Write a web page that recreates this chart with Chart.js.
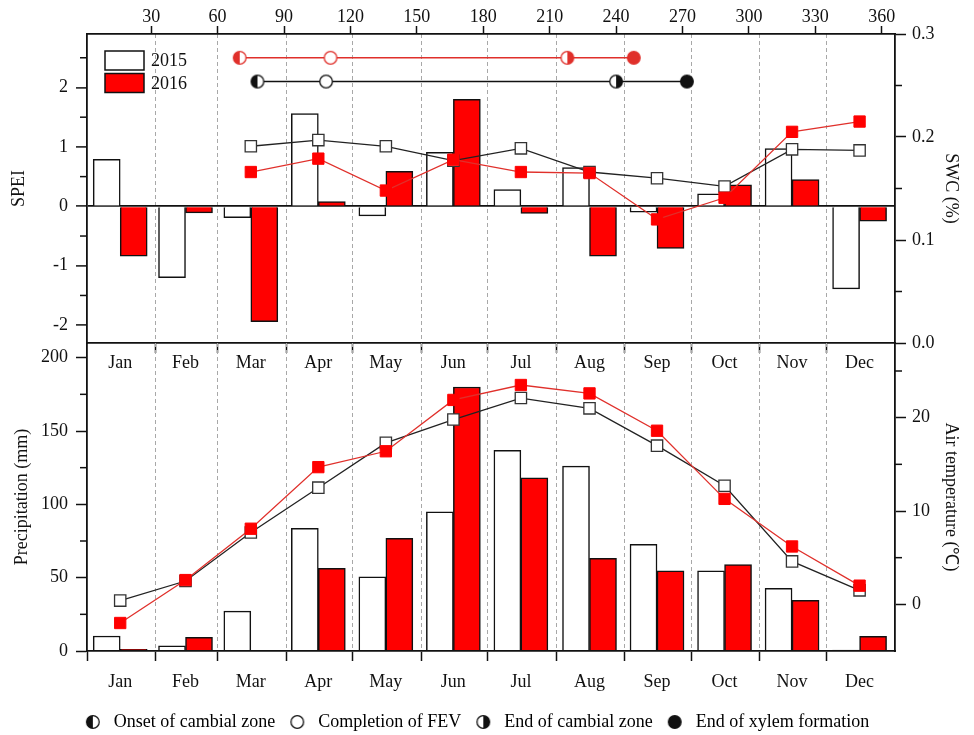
<!DOCTYPE html>
<html>
<head>
<meta charset="utf-8">
<title>SPEI, soil water, precipitation and air temperature</title>
<script src="https://cdn.jsdelivr.net/npm/chart.js@4.4.1/dist/chart.umd.min.js"></script>
<style>
  html, body { margin: 0; padding: 0; background: #fff; overflow: hidden; }
  #stage { position: relative; width: 974px; height: 735px; }
  #stage canvas { position: absolute; left: 0; top: 0; }
</style>
</head>
<body>
<div id="stage">
  <canvas id="speiChart" width="974" height="735"></canvas>
  <canvas id="climChart" width="974" height="760"></canvas>
</div>
<script>
// ---- data -------------------------------------------------------------
const months = ['Jan', 'Feb', 'Mar', 'Apr', 'May', 'Jun', 'Jul', 'Aug', 'Sep', 'Oct', 'Nov', 'Dec'];
const monthLengths = [31, 28, 31, 30, 31, 30, 31, 31, 30, 31, 30, 31];
const dayTicks = [30, 60, 90, 120, 150, 180, 210, 240, 270, 300, 330, 360];

const spei2015 = [0.79, -1.20, -0.19, 1.56, -0.16, 0.91, 0.28, 0.65, -0.10, 0.21, 0.97, -1.39];
const spei2016 = [-0.84, -0.11, -1.94, 0.08, 0.59, 1.80, -0.12, -0.84, -0.71, 0.36, 0.45, -0.25];

const swc2015 = [null, null, 0.191, 0.197, 0.191, 0.177, 0.189, 0.166, 0.160, 0.152, 0.188, 0.187];
const swc2016 = [null, null, 0.166, 0.179, 0.148, 0.178, 0.166, 0.165, 0.120, 0.141, 0.205, 0.215];

const precip2015 = [10.2, 3.6, 27.2, 83.6, 50.6, 94.9, 136.9, 126.0, 72.7, 54.7, 42.7, 0.7];
const precip2016 = [1.2, 9.3, 0.5, 56.3, 76.8, 180.0, 118.1, 63.1, 54.7, 59.0, 34.5, 10.0];

const temp2015 = [0.4, 2.5, 7.7, 12.5, 17.3, 19.8, 22.1, 21.0, 17.0, 12.7, 4.6, 1.5];
const temp2016 = [-2.0, 2.6, 8.1, 14.7, 16.4, 21.9, 23.5, 22.6, 18.6, 11.3, 6.2, 2.0];

// xylem phenology, day of year: onset of cambial zone, completion of FEV,
// end of cambial zone, end of xylem formation
const phenoLabels = ['Onset of cambial zone', 'Completion of FEV', 'End of cambial zone', 'End of xylem formation'];
const pheno2015 = [78, 109, 240, 272];
const pheno2016 = [70, 111, 218, 248];

const speiTicks = [-2, -1, 0, 1, 2];
const swcTicks = [0, 0.1, 0.2, 0.3];
const precipTicks = [0, 50, 100, 150, 200];
const tempTicks = [0, 10, 20];

// ---- styling ----------------------------------------------------------
const FONT = "'Liberation Serif', 'Times New Roman', Times, serif";
Chart.defaults.font.family = FONT;
Chart.defaults.font.size = 18;
Chart.defaults.color = '#111';
Chart.defaults.animation = false;

const INK = '#111';
const GRID = '#a8a8a8';
const RED = '#ff0000';
const RED_LINE = '#e0302b';
const AXIS_W = 1.8;
const DAY_MIN = 1, DAY_MAX = 366;

// calendar positions on the day-of-year axis
const monthStart = [];
monthLengths.reduce((d, n) => { monthStart.push(d); return d + n; }, 1);
const monthMid = monthStart.map((s, i) => s + (monthLengths[i] - 1) / 2);
const byMonth = vals => vals.map((v, i) => ({ x: monthMid[i], y: v }));

// phenology rows sit near the top of the SPEI range
const PHENO_ROW = { 2015: 2.1, 2016: 2.5 };

const setTicks = values => scale => { scale.ticks = values.map(v => ({ value: v })); };
const fixWidth = w => scale => { scale.width = w; };
const fixHeight = h => scale => { scale.height = h; };

// circle markers: open, filled, left-half or right-half filled
function ringMark(kind, color, r = 6.3, lw = 1.3) {
  const size = 2 * Math.ceil(r + lw + 1);
  const c = document.createElement('canvas');
  c.width = c.height = size;
  const g = c.getContext('2d');
  const m = size / 2;
  g.beginPath();
  g.arc(m, m, r, 0, Math.PI * 2);
  g.fillStyle = kind === 'full' ? color : '#fff';
  g.fill();
  if (kind === 'left' || kind === 'right') {
    const a0 = kind === 'left' ? Math.PI / 2 : -Math.PI / 2;
    g.beginPath();
    g.arc(m, m, r, a0, a0 + Math.PI);
    g.closePath();
    g.fillStyle = color;
    g.fill();
  }
  g.beginPath();
  g.arc(m, m, r, 0, Math.PI * 2);
  g.lineWidth = lw;
  g.strokeStyle = color;
  g.stroke();
  return c;
}
const markKinds = ['left', 'open', 'right', 'full'];
const phenoMarks = color => markKinds.map(k => ringMark(k, color));

// short minor tick marks on the value axes
const minorTicks = {
  id: 'minorTicks',
  afterDraw(chart, args, o) {
    const ctx = chart.ctx;
    ctx.save();
    ctx.strokeStyle = o.color;
    ctx.lineWidth = o.width;
    Object.entries(o.scales || {}).forEach(([id, values]) => {
      const s = chart.scales[id];
      values.forEach(v => {
        const y = s.getPixelForValue(v);
        ctx.beginPath();
        if (s.position === 'left') { ctx.moveTo(s.right - o.length, y); ctx.lineTo(s.right, y); }
        else { ctx.moveTo(s.left, y); ctx.lineTo(s.left + o.length, y); }
        ctx.stroke();
      });
    });
    ctx.restore();
  }
};

// year key drawn inside the upper-left corner of the SPEI panel
const yearKey = {
  id: 'yearKey',
  afterDraw(chart, args, o) {
    const { ctx, chartArea } = chart;
    const bars = chart.data.datasets.filter(ds => ds.type === 'bar');
    ctx.save();
    ctx.font = o.fontSize + 'px ' + FONT;
    ctx.textBaseline = 'middle';
    bars.forEach((ds, i) => {
      const x = chartArea.left + o.offsetX;
      const y = chartArea.top + o.offsetY + i * o.step;
      ctx.fillStyle = ds.backgroundColor;
      ctx.fillRect(x, y, o.boxW, o.boxH);
      ctx.lineWidth = o.lineWidth;
      ctx.strokeStyle = ds.borderColor;
      ctx.strokeRect(x, y, o.boxW, o.boxH);
      ctx.fillStyle = o.color;
      ctx.fillText(ds.label, x + o.boxW + o.gap, y + o.boxH / 2 + 1);
    });
    ctx.restore();
  }
};

const dayAxisBase = { type: 'linear', min: DAY_MIN, max: DAY_MAX, offset: false };

// ---- upper panel: SPEI bars, soil water content, phenology ------------
new Chart(document.getElementById('speiChart'), {
  type: 'bar',
  plugins: [yearKey, minorTicks],
  data: {
    datasets: [
      {
        type: 'line', label: '2016 phenology', xAxisID: 'day', yAxisID: 'spei', order: 0,
        data: pheno2016.map(x => ({ x, y: PHENO_ROW[2016] })),
        borderColor: RED_LINE, borderWidth: 1.5, pointStyle: phenoMarks(RED_LINE), pointRadius: 6
      },
      {
        type: 'line', label: '2015 phenology', xAxisID: 'day', yAxisID: 'spei', order: 0,
        data: pheno2015.map(x => ({ x, y: PHENO_ROW[2015] })),
        borderColor: INK, borderWidth: 1.5, pointStyle: phenoMarks(INK), pointRadius: 6
      },
      {
        type: 'line', label: 'SWC 2016', xAxisID: 'day', yAxisID: 'swc', order: 1,
        data: byMonth(swc2016),
        borderColor: RED_LINE, borderWidth: 1.3, pointStyle: 'rect', pointRadius: 8,
        pointBackgroundColor: RED, pointBorderColor: RED, pointBorderWidth: 1
      },
      {
        type: 'line', label: 'SWC 2015', xAxisID: 'day', yAxisID: 'swc', order: 2,
        data: byMonth(swc2015),
        borderColor: '#222', borderWidth: 1.3, pointStyle: 'rect', pointRadius: 8,
        pointBackgroundColor: '#fff', pointBorderColor: '#333', pointBorderWidth: 1.3
      },
      {
        type: 'bar', label: '2015', xAxisID: 'day', yAxisID: 'spei', order: 3,
        data: byMonth(spei2015), backgroundColor: '#fff', borderColor: INK, borderWidth: 1.5, barThickness: 27
      },
      {
        type: 'bar', label: '2016', xAxisID: 'day', yAxisID: 'spei', order: 3,
        data: byMonth(spei2016), backgroundColor: RED, borderColor: INK, borderWidth: 1.5, barThickness: 27
      }
    ]
  },
  options: {
    responsive: false,
    events: [],
    layout: { padding: { left: 0, right: 0, top: 0, bottom: 354 } },
    plugins: {
      legend: { display: false },
      tooltip: { enabled: false },
      yearKey: { offsetX: 18, offsetY: 17, step: 22.5, boxW: 39, boxH: 19, gap: 7, lineWidth: 1.5, fontSize: 18, color: INK },
      minorTicks: { color: INK, width: 1.5, length: 7, scales: { spei: [-1.5, -0.5, 0.5, 1.5, 2.5], swc: [0.05, 0.15, 0.25] } }
    },
    scales: {
      day: {
        ...dayAxisBase, position: 'top',
        afterBuildTicks: setTicks(dayTicks), afterFit: fixHeight(34),
        grid: { offset: false, drawOnChartArea: false, drawTicks: true, tickLength: 8, tickColor: INK, tickWidth: 1.5 },
        border: { display: true, color: INK, width: AXIS_W, z: 1 },
        ticks: { padding: -2, autoSkip: false, maxRotation: 0, color: INK, callback: v => String(v) }
      },
      mb: {
        ...dayAxisBase, position: 'bottom',
        afterBuildTicks: setTicks(monthStart.slice(1)), afterFit: fixHeight(8),
        grid: { offset: false, drawOnChartArea: true, color: GRID, lineWidth: 1, drawTicks: true, tickLength: 10, tickColor: INK, tickWidth: 1.5, tickBorderDash: [] },
        border: { display: true, color: INK, width: AXIS_W, dash: [4, 3], z: 1 },
        ticks: { display: false }
      },
      ml: {
        ...dayAxisBase, position: 'bottom',
        afterBuildTicks: setTicks(monthMid), afterFit: fixHeight(30),
        grid: { offset: false, display: false, drawTicks: false, drawOnChartArea: false },
        border: { display: false },
        ticks: { padding: 1, autoSkip: false, maxRotation: 0, color: INK, callback: (v, i) => months[i] }
      },
      spei: {
        type: 'linear', position: 'left', min: -2.3, max: 2.9,
        afterBuildTicks: setTicks(speiTicks), afterFit: fixWidth(87),
        grid: {
          drawOnChartArea: true, lineWidth: AXIS_W,
          color: c => (c.tick && c.tick.value === 0 ? INK : 'rgba(0,0,0,0)'),
          tickLength: 11, tickColor: INK, tickWidth: 1.5
        },
        border: { display: true, color: INK, width: AXIS_W, z: 1 },
        ticks: { padding: 8, color: INK, callback: v => String(v) },
        title: { display: true, text: 'SPEI', color: INK, font: { size: 18 }, padding: { top: 8, bottom: 0 } }
      },
      swc: {
        type: 'linear', position: 'right', min: 0, max: 0.3,
        afterBuildTicks: setTicks(swcTicks), afterFit: fixWidth(79),
        grid: { drawOnChartArea: false, tickLength: 11, tickColor: INK, tickWidth: 1.5 },
        border: { display: true, color: INK, width: AXIS_W, z: 1 },
        ticks: { padding: 6, color: INK, callback: v => v.toFixed(1) },
        title: { display: true, text: 'SWC (%)', color: INK, font: { size: 18 }, padding: { top: 12, bottom: 0 } }
      }
    }
  }
});

// ---- lower panel: precipitation bars and air temperature --------------
const legendMarks = markKinds.map(k => ringMark(k, INK));

new Chart(document.getElementById('climChart'), {
  type: 'bar',
  plugins: [minorTicks],
  data: {
    datasets: [
      {
        type: 'line', label: 'Air temperature 2016', xAxisID: 'xb', yAxisID: 'tc', order: 0,
        data: byMonth(temp2016),
        borderColor: RED_LINE, borderWidth: 1.3, pointStyle: 'rect', pointRadius: 8,
        pointBackgroundColor: RED, pointBorderColor: RED, pointBorderWidth: 1
      },
      {
        type: 'line', label: 'Air temperature 2015', xAxisID: 'xb', yAxisID: 'tc', order: 1,
        data: byMonth(temp2015),
        borderColor: '#222', borderWidth: 1.3, pointStyle: 'rect', pointRadius: 8,
        pointBackgroundColor: '#fff', pointBorderColor: '#333', pointBorderWidth: 1.3
      },
      {
        type: 'bar', label: '2015', xAxisID: 'xb', yAxisID: 'pr', order: 2,
        data: byMonth(precip2015), backgroundColor: '#fff', borderColor: INK, borderWidth: 1.5, barThickness: 27
      },
      {
        type: 'bar', label: '2016', xAxisID: 'xb', yAxisID: 'pr', order: 2,
        data: byMonth(precip2016), backgroundColor: RED, borderColor: INK, borderWidth: 1.5, barThickness: 27
      }
    ]
  },
  options: {
    responsive: false,
    events: [],
    layout: { padding: { left: 0, right: 24, top: 343, bottom: 19 } },
    plugins: {
      tooltip: { enabled: false },
      legend: {
        display: true, position: 'bottom', onClick: null,
        labels: {
          usePointStyle: true, pointStyleWidth: 24, padding: 10, color: INK,
          font: { size: 18 },
          generateLabels: () => phenoLabels.map((text, i) => ({
            text, pointStyle: legendMarks[i], fillStyle: INK, strokeStyle: INK,
            lineWidth: 0, hidden: false, datasetIndex: i
          }))
        }
      },
      minorTicks: { color: INK, width: 1.5, length: 7, scales: { pr: [25, 75, 125, 175], tc: [5, 15, 25] } }
    },
    scales: {
      xb: {
        ...dayAxisBase, position: 'bottom',
        afterBuildTicks: setTicks(monthStart), afterFit: fixHeight(10),
        grid: {
          offset: false, drawOnChartArea: true, lineWidth: 1,
          color: c => (c.tick && c.tick.value === DAY_MIN ? 'rgba(0,0,0,0)' : GRID),
          drawTicks: true, tickLength: 10, tickColor: INK, tickWidth: 1.5, tickBorderDash: []
        },
        border: { display: true, color: INK, width: AXIS_W, dash: [4, 3], z: 1 },
        ticks: { display: false }
      },
      xl: {
        ...dayAxisBase, position: 'bottom',
        afterBuildTicks: setTicks(monthMid), afterFit: fixHeight(42),
        grid: { offset: false, display: false, drawTicks: false, drawOnChartArea: false },
        border: { display: false },
        ticks: { padding: 10, autoSkip: false, maxRotation: 0, color: INK, callback: (v, i) => months[i] }
      },
      pr: {
        type: 'linear', position: 'left', min: 0, max: 210,
        afterBuildTicks: setTicks(precipTicks), afterFit: fixWidth(87),
        grid: { drawOnChartArea: false, tickLength: 11, tickColor: INK, tickWidth: 1.5 },
        border: { display: true, color: INK, width: AXIS_W, z: 1 },
        ticks: { padding: 8, color: INK, callback: v => String(v) },
        title: { display: true, text: 'Precipitation (mm)', color: INK, font: { size: 18 }, padding: { top: 11, bottom: 0 } }
      },
      tc: {
        type: 'linear', position: 'right', min: -5, max: 28,
        afterBuildTicks: setTicks(tempTicks), afterFit: fixWidth(55),
        grid: { drawOnChartArea: false, tickLength: 11, tickColor: INK, tickWidth: 1.5 },
        border: { display: true, color: INK, width: AXIS_W, z: 1 },
        ticks: { padding: 6, color: INK, callback: v => String(v) },
        title: { display: true, text: 'Air temperature (℃)', color: INK, font: { size: 18 }, padding: { top: -12, bottom: 0 } }
      }
    }
  }
});
</script>
</body>
</html>
